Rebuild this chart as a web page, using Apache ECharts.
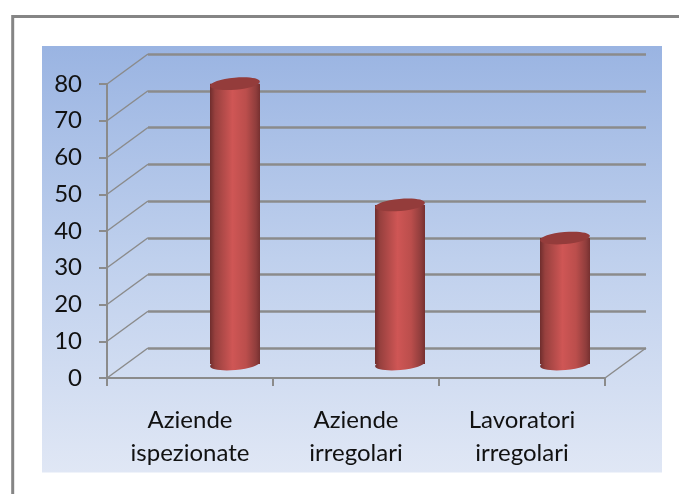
<!DOCTYPE html>
<html><head><meta charset="utf-8">
<script src="https://cdn.jsdelivr.net/npm/echarts@6/dist/echarts.min.js"></script>
<style>html,body{margin:0;padding:0;background:#fff}#c{width:679px;height:494px}</style>
</head><body><div id="c"></div>
<script>
const categories = ['Aziende\nispezionate', 'Aziende\nirregolari', 'Lavoratori\nirregolari'];
const values = [76, 43, 34];
const tickValues = [0, 10, 20, 30, 40, 50, 60, 70, 80];

const depth = [41, -30];
const grey = '#8b8b8b';
const fontFamily = 'Lato';
const chart = echarts.init(document.getElementById('c'), null, {renderer: 'canvas'});

const cylGradient = new echarts.graphic.LinearGradient(0, 0, 1, 0, [
  {offset: 0, color: '#6f2d2d'},
  {offset: 0.1, color: '#97403e'},
  {offset: 0.45, color: '#cf5655'},
  {offset: 0.72, color: '#bb4e4c'},
  {offset: 0.92, color: '#8f3d3c'},
  {offset: 1, color: '#763030'}
]);

const common = {min: 0, max: 80, interval: 10};
chart.setOption({
  animation: false,
  backgroundColor: '#fff',
  graphic: [
    {type: 'rect', z: -10, shape: {x: 42, y: 46, width: 620, height: 426.5},
      style: {fill: new echarts.graphic.LinearGradient(0, 0, 0, 1, [
        {offset: 0, color: '#9ab4e2'}, {offset: 0.5, color: '#bfd0ed'}, {offset: 1, color: '#e0e7f5'}])}},
    {type: 'polyline', z: -10, shape: {points: [[12.7, 494], [12.7, 16.5], [679, 16.5]]},
      style: {stroke: '#858585', lineWidth: 3, fill: null}}
  ],
  grid: [
    {left: 107, top: 84, width: 498, height: 294},
    {left: 148, top: 54, width: 498, height: 294},
    {left: 152.5, top: 69, width: 495, height: 294}
  ],
  xAxis: [
    {type: 'category', gridIndex: 0, data: categories,
      axisLine: {lineStyle: {color: grey, width: 2}},
      axisTick: {show: true, alignWithLabel: false, length: 8, lineStyle: {color: grey, width: 2}},
      axisLabel: {color: '#111', fontFamily, fontSize: 24, lineHeight: 33, margin: 26, interval: 0},
      splitLine: {show: false}},
    {type: 'category', gridIndex: 1, data: categories, show: false},
    {type: 'category', gridIndex: 2, data: categories, show: false}
  ],
  yAxis: [
    Object.assign({type: 'value', gridIndex: 0,
      axisLine: {show: true, lineStyle: {color: grey, width: 2}},
      axisTick: {show: true, length: 8, lineStyle: {color: grey, width: 2}},
      axisLabel: {color: '#111', fontFamily, fontSize: 24, margin: 25, formatter: v => tickValues.includes(v) ? String(v) : ''},
      splitLine: {show: false}}, common),
    Object.assign({type: 'value', gridIndex: 1,
      axisLine: {show: false}, axisTick: {show: false}, axisLabel: {show: false},
      splitLine: {show: true, lineStyle: {color: grey, width: 2.5}}}, common),
    Object.assign({type: 'value', gridIndex: 2, show: false, splitLine: {show: false}}, common)
  ],
  series: [
    {type: 'custom', xAxisIndex: 0, yAxisIndex: 0, silent: true, z: 1,
      data: tickValues.map(v => [0, v]),
      encode: {x: 0, y: 1},
      renderItem(params, api) {
        const p = api.coord([0, api.value(1)]);
        const x = p[0] - api.size([1, 0])[0] / 2;
        return {type: 'line', shape: {x1: x, y1: p[1], x2: x + depth[0], y2: p[1] + depth[1]},
          style: {stroke: grey, lineWidth: 1.5}};
      }},
    {type: 'custom', xAxisIndex: 0, yAxisIndex: 0, silent: true, z: 1,
      data: [[2, 0]],
      encode: {x: 0, y: 1},
      renderItem(params, api) {
        const p = api.coord([2, 0]);
        const x = p[0] + api.size([1, 0])[0] / 2;
        return {type: 'line', shape: {x1: x, y1: p[1], x2: x + depth[0], y2: p[1] + depth[1]},
          style: {stroke: grey, lineWidth: 1.5}};
      }},
    {type: 'custom', xAxisIndex: 2, yAxisIndex: 2, silent: true, z: 5,
      data: values.map((v, i) => [i, v]),
      encode: {x: 0, y: 1},
      renderItem(params, api) {
        const top = api.coord([api.value(0), api.value(1)]);
        const base = api.coord([api.value(0), 0]);
        const rx = 25, ry = 6, tilt = 0.09;
        return {type: 'group', children: [
          {type: 'ellipse', shape: {cx: 0, cy: 0, rx, ry}, x: base[0], y: base[1] + 1,
            rotation: tilt, style: {fill: cylGradient}},
          {type: 'rect', shape: {x: base[0] - rx, y: top[1], width: rx * 2, height: base[1] - top[1] + 1},
            style: {fill: cylGradient}},
          {type: 'ellipse', shape: {cx: 0, cy: 0, rx, ry}, x: top[0], y: top[1],
            rotation: tilt, style: {fill: '#943c3b'}}
        ]};
      }}
  ]
});
</script></body></html>
